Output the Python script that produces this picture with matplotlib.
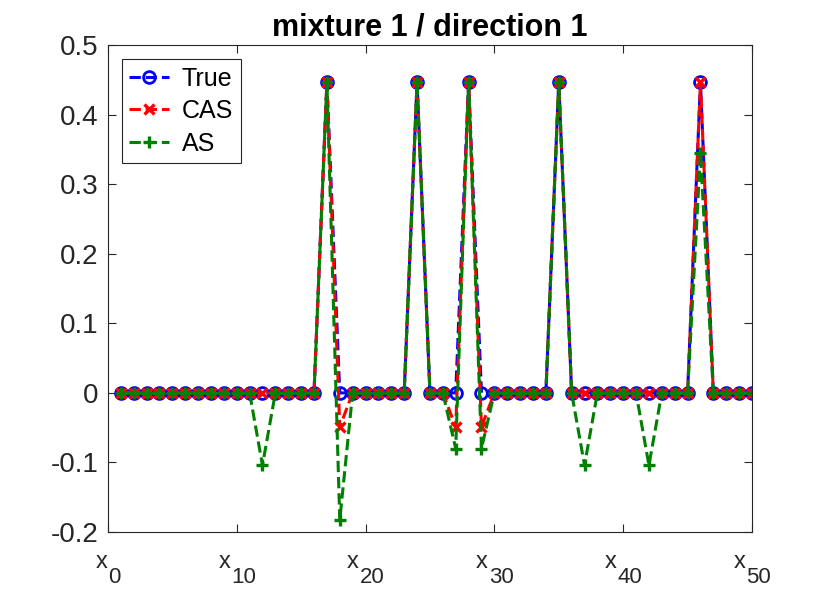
import matplotlib
matplotlib.use('Agg')
import matplotlib.pyplot as plt

plt.rcParams['font.family'] = ['Liberation Sans', 'DejaVu Sans']

# chart data
x_idx = list(range(1, 51))
true_vals = [0, 0, 0, 0, 0, 0, 0, 0, 0, 0,
             0, 0, 0, 0, 0, 0, 0.447, 0, 0, 0,
             0, 0, 0, 0.447, 0, 0, 0, 0.447, 0, 0,
             0, 0, 0, 0, 0.447, 0, 0, 0, 0, 0,
             0, 0, 0, 0, 0, 0.447, 0, 0, 0, 0]
cas_vals = [0, 0, 0, 0, 0, 0, 0, 0, 0, 0,
            0, 0, 0, 0, 0, 0, 0.447, -0.049, 0, 0,
            0, 0, 0, 0.447, 0, 0, -0.049, 0.447, -0.049, 0,
            0, 0, 0, 0, 0.447, 0, 0, 0, 0, 0,
            0, 0, 0, 0, 0, 0.447, 0, 0, 0, 0]
as_vals = [0, 0, 0, 0, 0, 0, 0, 0, 0, 0,
           0, -0.104, 0, 0, 0, 0, 0.447, -0.183, 0, 0,
           0, 0, 0, 0.447, 0, 0, -0.080, 0.447, -0.080, 0,
           0, 0, 0, 0, 0.447, 0, -0.104, 0, 0, 0,
           0, -0.104, 0, 0, 0, 0.345, 0, 0, 0, 0]
x_ticks = [0, 10, 20, 30, 40, 50]
x_tick_subs = ['0', '10', '20', '30', '40', '50']
y_ticks = [-0.2, -0.1, 0, 0.1, 0.2, 0.3, 0.4, 0.5]
y_tick_labels = ['-0.2', '-0.1', '0', '0.1', '0.2', '0.3', '0.4', '0.5']

DARK = (0.15, 0.15, 0.15)

fig = plt.figure(figsize=(8.3, 5.97), dpi=100)
ax = fig.add_axes([0.13, 0.109, 0.776, 0.815])

ax.plot(x_idx, true_vals, '--o', color=(0, 0, 1), lw=2.2, ms=8.5,
        mfc='none', mew=2, label='True')
ax.plot(x_idx, cas_vals, '--x', color=(1, 0, 0), lw=2.2, ms=6.5,
        mew=2.4, label='CAS')
ax.plot(x_idx, as_vals, '--+', color=(0, 0.5, 0), lw=2.2, ms=8.5,
        mew=2.4, label='AS')

ax.set_xlim(0, 50)
ax.set_ylim(-0.2, 0.5)
ax.set_xticks(x_ticks)
ax.set_xticklabels([])
ax.set_yticks(y_ticks)
ax.set_yticklabels(y_tick_labels, fontsize=20)
ax.tick_params(direction='in', length=6, width=0.8, top=True, right=True,
               colors=DARK, pad=7)
for s in ax.spines.values():
    s.set_color(DARK)
    s.set_linewidth(0.8)

# x tick labels drawn as "x" with a lowered subscript, like the tex labels
trans = ax.get_xaxis_transform()
pairs = []
for t, sub in zip(x_ticks, x_tick_subs):
    base = ax.annotate('x', (t, 0), xycoords=trans, xytext=(0, -26),
                       textcoords='offset points', ha='right', va='baseline',
                       fontsize=17, color=DARK)
    low = ax.annotate(sub, (t, 0), xycoords=trans, xytext=(0, -37),
                      textcoords='offset points', ha='left', va='baseline',
                      fontsize=16, color=DARK)
    pairs.append((base, low))
fig.canvas.draw()
renderer = fig.canvas.get_renderer()
for base, low in pairs:
    wx = base.get_window_extent(renderer).width
    wd = low.get_window_extent(renderer).width
    shift = (wx - wd) / 2 * 72 / fig.dpi
    base.set_position((shift, -26))
    low.set_position((shift + 0.6, -37))

ax.set_title('mixture 1 / direction 1', fontsize=22, fontweight='bold', pad=7)

leg = ax.legend(loc='upper left', fontsize=18, fancybox=False, framealpha=1,
                edgecolor=DARK, handlelength=1.6, borderaxespad=0.55,
                labelspacing=0.34, handletextpad=0.5, borderpad=0.3)
leg.get_frame().set_linewidth(0.8)

fig.savefig('out.png', dpi=100)
